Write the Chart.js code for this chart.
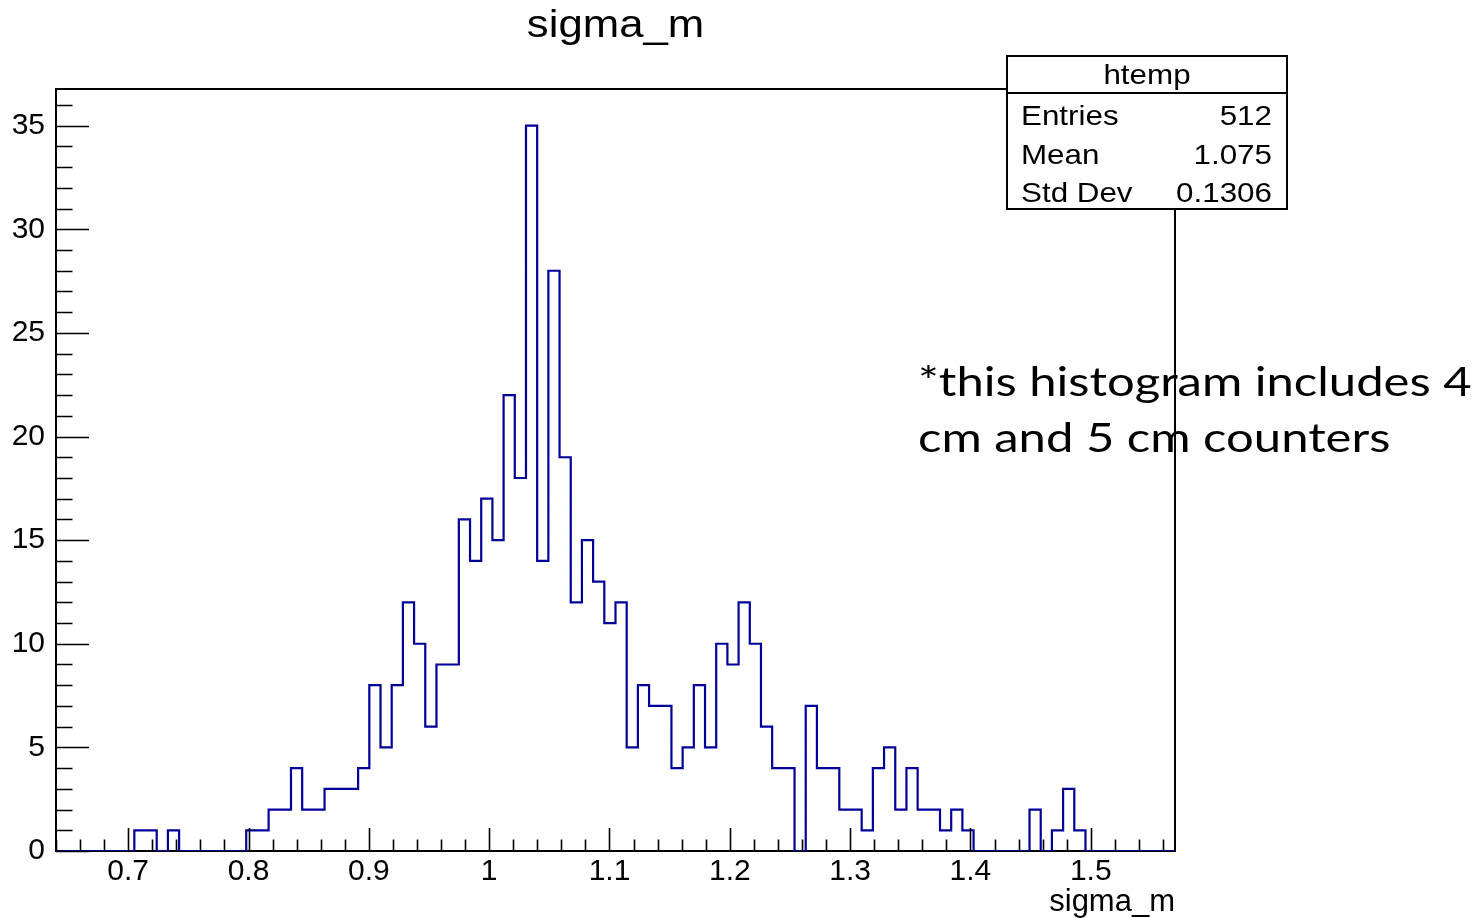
<!DOCTYPE html>
<html>
<head>
<meta charset="utf-8">
<title>sigma_m</title>
<script src="https://cdn.jsdelivr.net/npm/chart.js@4.4.1/dist/chart.umd.min.js"></script>
<style>
  html, body { margin: 0; padding: 0; background: #ffffff; }
  canvas { display: block; }
</style>
</head>
<body>
<canvas id="hist" width="1476" height="918"></canvas>
<script>
// Binning of the sigma_m histogram: N_BINS equal bins from X_MIN to X_MAX
const X_MIN = 0.64;
const X_MAX = 1.57;
const N_BINS = 100;
const Y_MAX = 36.77;

// Entries per bin, left to right
const COUNTS = [
  0, 0, 0, 0, 0, 0, 0, 1, 1, 0,
  1, 0, 0, 0, 0, 0, 0, 1, 1, 2,
  2, 4, 2, 2, 3, 3, 3, 4, 8, 5,
  8, 12, 10, 6, 9, 9, 16, 14, 17, 15,
  22, 18, 35, 14, 28, 19, 12, 15, 13, 11,
  12, 5, 8, 7, 7, 4, 5, 8, 5, 10,
  9, 12, 10, 6, 4, 4, 0, 7, 4, 4,
  2, 2, 1, 4, 5, 2, 4, 2, 2, 1,
  2, 1, 0, 0, 0, 0, 0, 2, 0, 1,
  3, 1, 0, 0, 0, 0, 0, 0, 0, 0
];

// Labelled (major) ticks
const X_LABELS = ['0.7', '0.8', '0.9', '1', '1.1', '1.2', '1.3', '1.4', '1.5'];
const Y_LABELS = ['0', '5', '10', '15', '20', '25', '30', '35'];
const X_MINOR_STEP = 0.02;
const Y_MINOR_STEP = 1;

// Statistics box
const STATS_TITLE = 'htemp';
const STATS_NAMES = ['Entries', 'Mean', 'Std Dev'];
const STATS_VALUES = ['512', '1.075', '0.1306'];

// Side note
const NOTE_LINES = ['*this histogram includes 4', 'cm and 5 cm counters'];

const TITLE = 'sigma_m';
const X_TITLE = 'sigma_m';

const FONT = '"Liberation Sans", Arial, Helvetica, sans-serif';
const LINE_COLOR = 'rgb(0, 0, 153)';

// Bin edges and step outline points
const binWidth = (X_MAX - X_MIN) / N_BINS;
const outline = COUNTS.map((c, i) => ({ x: X_MIN + i * binWidth, y: c }));
outline.push({ x: X_MAX, y: 0 });

const xMajor = X_LABELS.map(Number);
const yMajor = Y_LABELS.map(Number);
const near = (a, b, eps) => Math.abs(a - b) < eps;
const xLabelFor = v => {
  const k = xMajor.findIndex(m => near(m, v, 1e-6));
  return k >= 0 ? X_LABELS[k] : '';
};
const yLabelFor = v => {
  const k = yMajor.findIndex(m => near(m, v, 1e-6));
  return k >= 0 ? Y_LABELS[k] : '';
};

function stretchedText(ctx, text, x, y, align, sx) {
  ctx.save();
  ctx.translate(x, y);
  ctx.scale(sx, 1);
  ctx.textAlign = align;
  ctx.textBaseline = 'alphabetic';
  ctx.fillText(text, 0, 0);
  ctx.restore();
}

const whiteBackground = {
  id: 'whiteBackground',
  beforeDraw(chart) {
    const ctx = chart.ctx;
    ctx.save();
    ctx.fillStyle = '#ffffff';
    ctx.fillRect(0, 0, chart.width, chart.height);
    ctx.restore();
  }
};

// Inward tick marks, closing frame, title, stats box and note
const decorations = {
  id: 'decorations',
  afterDraw(chart) {
    const ctx = chart.ctx;
    const area = chart.chartArea;
    const xs = chart.scales.x;
    const ys = chart.scales.y;

    ctx.save();
    ctx.strokeStyle = '#000000';
    ctx.lineWidth = 1.6;
    ctx.beginPath();
    xs.ticks.forEach(t => {
      const px = Math.round(xs.getPixelForValue(t.value)) + 0.5;
      const len = xLabelFor(t.value) ? 23 : 11.5;
      ctx.moveTo(px, area.bottom);
      ctx.lineTo(px, area.bottom - len);
    });
    ys.ticks.forEach(t => {
      const py = Math.round(ys.getPixelForValue(t.value)) + 0.5;
      const len = yLabelFor(t.value) ? 33 : 16.5;
      ctx.moveTo(area.left, py);
      ctx.lineTo(area.left + len, py);
    });
    ctx.stroke();

    // top and right sides of the frame
    ctx.lineWidth = 2;
    ctx.beginPath();
    ctx.moveTo(area.left, area.top);
    ctx.lineTo(area.right, area.top);
    ctx.lineTo(area.right, area.bottom);
    ctx.stroke();

    ctx.fillStyle = '#000000';

    // plot title
    ctx.font = '38px ' + FONT;
    stretchedText(ctx, TITLE, (area.left + area.right) / 2, 37, 'center', 1.15);

    // side note
    ctx.font = '41px Lato, "Noto Sans", sans-serif';
    NOTE_LINES.forEach((line, i) => {
      stretchedText(ctx, line, 918, 396 + i * 56, 'left', 1.195);
    });

    // statistics box
    const bx = 1007, by = 56, bw = 280, bh = 153;
    ctx.fillStyle = '#ffffff';
    ctx.fillRect(bx, by, bw, bh);
    ctx.lineWidth = 2;
    ctx.strokeRect(bx, by, bw, bh);
    ctx.beginPath();
    ctx.moveTo(bx, 93);
    ctx.lineTo(bx + bw, 93);
    ctx.stroke();
    ctx.fillStyle = '#000000';
    ctx.font = '28px ' + FONT;
    stretchedText(ctx, STATS_TITLE, bx + bw / 2, 84, 'center', 1.12);
    STATS_NAMES.forEach((name, i) => {
      const y = 125 + i * 38.5;
      stretchedText(ctx, name, 1021, y, 'left', 1.12);
      stretchedText(ctx, STATS_VALUES[i], 1272, y, 'right', 1.12);
    });
    ctx.restore();
  }
};

new Chart(document.getElementById('hist'), {
  type: 'line',
  data: {
    datasets: [{
      data: outline,
      stepped: 'before',
      borderColor: LINE_COLOR,
      borderWidth: 2.2,
      pointRadius: 0,
      fill: false,
      tension: 0
    }]
  },
  options: {
    responsive: false,
    animation: false,
    devicePixelRatio: 1,
    layout: { padding: { left: 0, top: 89, right: 301, bottom: 0 } },
    plugins: {
      legend: { display: false },
      tooltip: { enabled: false },
      title: { display: false }
    },
    scales: {
      x: {
        type: 'linear',
        position: 'bottom',
        min: X_MIN,
        max: X_MAX,
        z: 1,
        grid: { display: false, drawTicks: false },
        border: { display: true, color: '#000000', width: 2 },
        afterBuildTicks(scale) {
          const ticks = [];
          const n = Math.round((X_MAX - X_MIN) / X_MINOR_STEP);
          for (let i = 0; i <= n; i++) {
            const v = +(X_MIN + i * X_MINOR_STEP).toFixed(4);
            if (v <= X_MAX) ticks.push({ value: v });
          }
          scale.ticks = ticks;
        },
        afterFit(scale) { scale.height = 67; },
        ticks: {
          autoSkip: false,
          maxRotation: 0,
          minRotation: 0,
          padding: 3,
          color: '#000000',
          font: { family: FONT, size: 30 },
          callback: v => xLabelFor(v)
        },
        title: {
          display: true,
          text: X_TITLE,
          align: 'end',
          color: '#000000',
          font: { family: FONT, size: 31 },
          padding: { top: 0, bottom: -3 }
        }
      },
      y: {
        type: 'linear',
        position: 'left',
        min: 0,
        max: Y_MAX,
        z: 1,
        grid: { display: false, drawTicks: false },
        border: { display: true, color: '#000000', width: 2 },
        afterBuildTicks(scale) {
          const ticks = [];
          for (let v = 0; v <= Y_MAX; v += Y_MINOR_STEP) ticks.push({ value: v });
          scale.ticks = ticks;
        },
        afterFit(scale) { scale.width = 56; },
        ticks: {
          autoSkip: false,
          padding: 11,
          color: '#000000',
          font: { family: FONT, size: 30 },
          callback: v => yLabelFor(v)
        }
      }
    }
  },
  plugins: [whiteBackground, decorations]
});
</script>
</body>
</html>
